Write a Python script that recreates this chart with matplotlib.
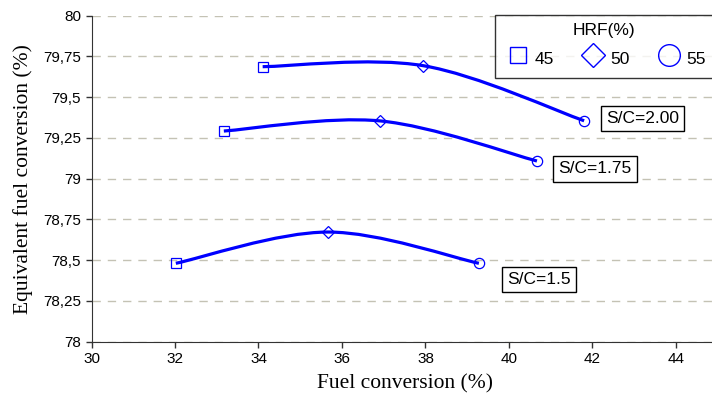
import numpy as np
import matplotlib
matplotlib.use('Agg')
import matplotlib.pyplot as plt
from matplotlib.path import Path
from matplotlib.patches import PathPatch
from matplotlib.lines import Line2D

matplotlib.rcParams.update({'font.family': ['Liberation Sans', 'DejaVu Sans']})

# fuel conversion (%) / equivalent fuel conversion (%) for HRF = 45, 50, 55 %
hrf = ['45', '50', '55']
sc_labels = ['S/C=2.00', 'S/C=1.75', 'S/C=1.5']
x_sc200 = [34.10, 37.95, 41.80]
y_sc200 = [79.687, 79.693, 79.355]
x_sc175 = [33.17, 36.92, 40.67]
y_sc175 = [79.292, 79.354, 79.108]
x_sc150 = [32.02, 35.67, 39.28]
y_sc150 = [78.480, 78.672, 78.480]

# where the S/C boxes sit (data coords)
label_pos = [(43.20, 79.368), (42.06, 79.059), (40.73, 78.381)]

yticks = [78, 78.25, 78.5, 78.75, 79, 79.25, 79.5, 79.75, 80]
ytick_labels = ['78', '78,25', '78,5', '78,75', '79', '79,25', '79,5', '79,75', '80']
xticks = [30, 32, 34, 36, 38, 40, 42, 44]

blue = '#0000ff'
markers = ['s', 'D', 'o']
msizes = [7.7, 6.0, 7.4]


def smooth_path(xs, ys):
    # excel-like smoothed line: cubic bezier through the points
    p = np.column_stack([xs, ys])
    n = len(p)
    verts = [p[0]]
    codes = [Path.MOVETO]
    for i in range(n - 1):
        prev = p[i - 1] if i > 0 else p[i]
        nxt = p[i + 2] if i + 2 < n else p[i + 1]
        c1 = p[i] + (p[i + 1] - prev) / 6.0
        c2 = p[i + 1] - (nxt - p[i]) / 6.0
        verts += [c1, c2, p[i + 1]]
        codes += [Path.CURVE4] * 3
    return Path(verts, codes)


fig = plt.figure(figsize=(7.12, 4.07), dpi=100)
ax = fig.add_axes([91.5 / 712, 65.5 / 407, 626.2 / 712, 325.8 / 407])

for xs, ys in [(x_sc200, y_sc200), (x_sc175, y_sc175), (x_sc150, y_sc150)]:
    ax.add_patch(PathPatch(smooth_path(xs, ys), facecolor='none',
                           edgecolor=blue, lw=2.3, zorder=3))
    for k in range(3):
        ax.plot(xs[k], ys[k], marker=markers[k], ms=msizes[k], mfc='none',
                mec=blue, mew=0.9, ls='none', zorder=4)

for lab, (tx, ty) in zip(sc_labels, label_pos):
    ax.text(tx, ty, lab, fontsize=12.5, ha='center', va='center', zorder=5,
            bbox=dict(boxstyle='square,pad=0.3', fc='white', ec='black', lw=1))

ax.set_xlim(30, 45)
ax.set_ylim(78, 80)
ax.set_xticks(xticks)
ax.set_xticklabels([str(v) for v in xticks])
ax.set_yticks(yticks)
ax.set_yticklabels(ytick_labels)
ax.tick_params(labelsize=11, length=4, width=1, color='#333333')
ax.yaxis.grid(True, linestyle=(0, (6, 5)), color='#c4c2b4', lw=1)
ax.set_axisbelow(True)
for s in ['top', 'right']:
    ax.spines[s].set_visible(False)
for s in ['left', 'bottom']:
    ax.spines[s].set_color('#333333')

ax.set_xlabel('Fuel conversion (%)', fontsize=15.5, family='Liberation Serif', labelpad=6)
ax.set_ylabel('Equivalent fuel conversion (%)', fontsize=15.5, family='Liberation Serif', labelpad=7)

handles = [Line2D([], [], marker=m, ms=s, mfc='none', mec=blue, mew=1, ls='none')
           for m, s in zip(markers, [12, 12.5, 15.6])]
leg = fig.legend(handles, hrf, title='HRF(%)', ncol=3, loc='upper left',
                 bbox_to_anchor=(495 / 712, 1 - 15 / 407), fontsize=12.5,
                 title_fontsize=12.5, frameon=True, fancybox=False,
                 handletextpad=0.15, columnspacing=1.4, handlelength=1.7,
                 handleheight=1.7, borderpad=0.45, borderaxespad=0)
leg.get_frame().set_edgecolor('black')
leg.get_frame().set_linewidth(1)

fig.savefig('out.png', dpi=100)
